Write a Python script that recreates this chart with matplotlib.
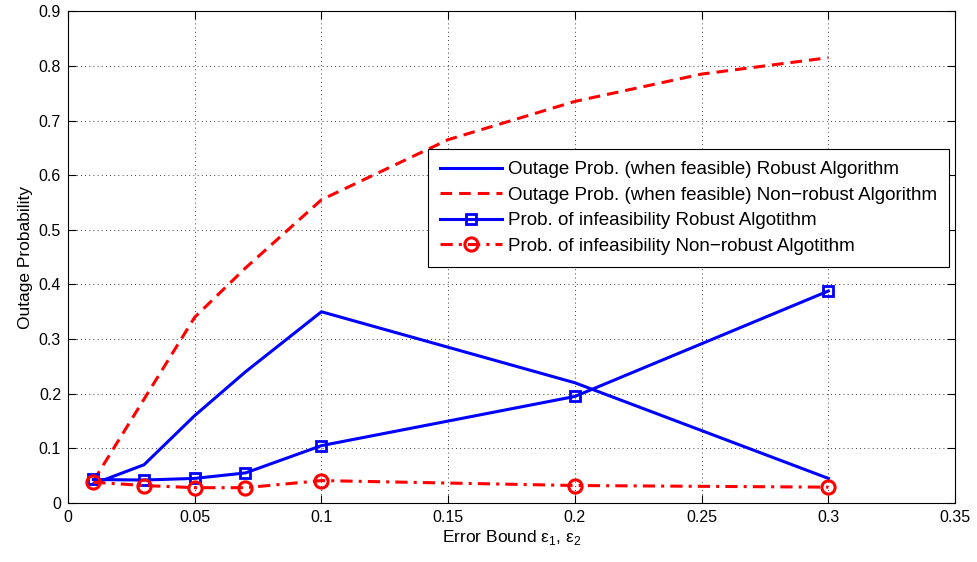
import matplotlib
matplotlib.use("Agg")
import matplotlib.pyplot as plt

plt.rcParams["font.family"] = ["Liberation Sans", "DejaVu Sans"]
plt.rcParams["mathtext.fontset"] = "custom"
plt.rcParams["mathtext.rm"] = "Liberation Sans"

x_out_rob = [0.01, 0.03, 0.05, 0.07, 0.1, 0.2, 0.3]
y_out_rob = [0.035, 0.07, 0.16, 0.24, 0.35, 0.22, 0.045]

x_out_nonrob = [0.01, 0.03, 0.05, 0.07, 0.1, 0.15, 0.2, 0.25, 0.3]
y_out_nonrob = [0.04, 0.19, 0.34, 0.43, 0.555, 0.665, 0.735, 0.785, 0.815]

x_inf = [0.01, 0.03, 0.05, 0.07, 0.1, 0.2, 0.3]
y_inf_rob = [0.043, 0.042, 0.045, 0.055, 0.105, 0.195, 0.388]
y_inf_nonrob = [0.038, 0.032, 0.028, 0.028, 0.041, 0.032, 0.029]

labels = [
    "Outage Prob. (when feasible) Robust Algorithm",
    "Outage Prob. (when feasible) Non\u2212robust Algorithm",
    "Prob. of infeasibility Robust Algotithm",
    "Prob. of infeasibility Non\u2212robust Algotithm",
]

fig = plt.figure(figsize=(9.77, 5.62), dpi=100)
ax = fig.add_axes([0.0696, 0.105, 0.908, 0.875])

lw = 2.2
ax.plot(x_out_rob, y_out_rob, color="#0000ff", linewidth=lw, label=labels[0])
ax.plot(x_out_nonrob, y_out_nonrob, color="#ff0000", linewidth=lw,
        linestyle=(0, (3.8, 2.3)), label=labels[1])
ax.plot(x_inf, y_inf_rob, color="#0000ff", linewidth=lw, marker="s",
        markersize=7.5, markerfacecolor="none", markeredgewidth=2, label=labels[2])
ax.plot(x_inf, y_inf_nonrob, color="#ff0000", linewidth=lw,
        linestyle=(0, (4, 2, 1, 2)), marker="o", markersize=9.5,
        markerfacecolor="none", markeredgewidth=2.2, label=labels[3])

ax.set_xlim(0, 0.35)
ax.set_ylim(0, 0.9)
ax.set_xticks([0, 0.05, 0.1, 0.15, 0.2, 0.25, 0.3, 0.35])
ax.set_xticklabels(["0", "0.05", "0.1", "0.15", "0.2", "0.25", "0.3", "0.35"])
ax.set_yticks([i / 10 for i in range(10)])
ax.set_yticklabels(["0"] + [f"0.{i}" for i in range(1, 10)])
ax.tick_params(direction="in", top=True, right=True, labelsize=11.5, length=6, pad=5)
ax.grid(True, color="black", linestyle=(0, (1, 4)), linewidth=0.6)
for s in ax.spines.values():
    s.set_linewidth(0.8)

ax.set_xlabel("Error Bound ε$_1$, ε$_2$", fontsize=12.5, labelpad=2)
ax.set_ylabel("Outage Probability", fontsize=12.5, labelpad=4)

leg = ax.legend(loc="upper right", bbox_to_anchor=(0.993, 0.72), fontsize=13.5,
                fancybox=False, framealpha=1, edgecolor="black",
                handlelength=3.3, handletextpad=0.3, borderpad=0.65,
                labelspacing=0.45, borderaxespad=0)
leg.get_frame().set_linewidth(0.8)

fig.savefig("out.png", dpi=100)
